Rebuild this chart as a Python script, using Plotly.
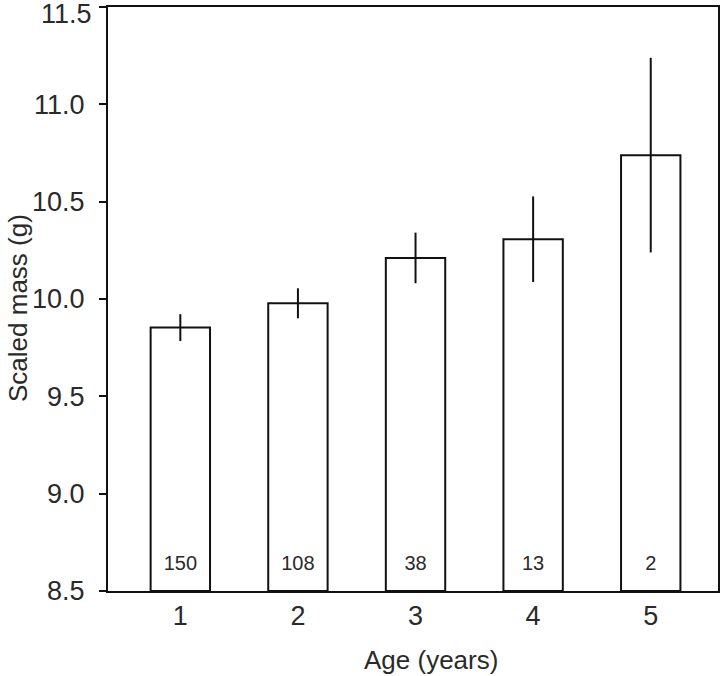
import plotly.graph_objects as go

# dados
idade = [1, 2, 3, 4, 5]
massa = [9.853, 9.978, 10.211, 10.307, 10.739]
erro = [0.069, 0.077, 0.130, 0.220, 0.500]
n_amostras = ["150", "108", "38", "13", "2"]
ticks_y = [8.5, 9.0, 9.5, 10.0, 10.5, 11.0, 11.5]

fonte = dict(family="Liberation Sans, Arial, sans-serif", color="#2a2a2a")

fig = go.Figure()

#  barras com erro (base no eixo em 8.5)
fig.add_trace(go.Bar(
    x = idade,
    y = [m - 8.5 for m in massa],
    base = 8.5,
    width = 0.505,
    marker = dict(color = "white", line = dict(color = "#111111", width = 2)),
    error_y = dict(type = "data", array = erro, color = "#111111", thickness = 2, width = 0),
    hoverinfo = "skip"
))

#  contagem de indivíduos dentro das barras
fig.add_trace(go.Scatter(
    x = idade,
    y = [8.635] * len(idade),
    mode = "text",
    text = n_amostras,
    textfont = dict(size = 20, **fonte),
    hoverinfo = "skip"
))

fig.update_layout(
    width = 720,
    height = 676,
    margin = dict(l = 108, r = 2, t = 7, b = 85, autoexpand = False),
    plot_bgcolor = "white",
    paper_bgcolor = "white",
    showlegend = False,
    font = dict(size = 27, **fonte),
)

fig.update_xaxes(
    range = [0.385, 5.572],
    tickvals = idade,
    ticks = "",
    showgrid = False,
    zeroline = False,
    showline = True,
    mirror = True,
    linecolor = "#111111",
    linewidth = 2,
    ticklabelstandoff = 0,
    tickfont = dict(size = 27, **fonte),
)

#  o rótulo 11.5 fica no topo e é escrito como anotação
fig.update_yaxes(
    range = [8.5, 11.5],
    tickvals = ticks_y,
    ticktext = [f"{v:.1f}" if v < 11.5 else "" for v in ticks_y],
    ticks = "outside",
    ticklen = 7,
    tickwidth = 2,
    tickcolor = "#111111",
    showgrid = False,
    zeroline = False,
    showline = True,
    mirror = True,
    linecolor = "#111111",
    linewidth = 2,
    ticklabelstandoff = 9,
    tickfont = dict(size = 27, **fonte),
)

fig.add_annotation(
    text = f"{ticks_y[-1]:.1f}",
    x = 0, xref = "paper", xanchor = "right", xshift = -15,
    y = ticks_y[-1], yref = "y", yanchor = "middle", yshift = -7,
    borderpad = 0,
    showarrow = False,
    font = dict(size = 27, **fonte),
)

#  títulos dos eixos
fig.add_annotation(
    text = "Age (years)",
    x = (431 - 108) / 610, xref = "paper",
    y = -69 / 584, yref = "paper", yanchor = "middle",
    showarrow = False,
    font = dict(size = 26, **fonte),
)
fig.add_annotation(
    text = "Scaled mass (g)",
    x = (18 - 108) / 610, xref = "paper", xanchor = "center",
    y = (591 - 308) / 584, yref = "paper", yanchor = "middle",
    textangle = -90,
    showarrow = False,
    font = dict(size = 26, **fonte),
)

#  sem margem da página e sem barra de ferramentas
fig.write_html("out.html", config = {"displayModeBar": False},
               post_script = "document.body.style.margin = '0';")
